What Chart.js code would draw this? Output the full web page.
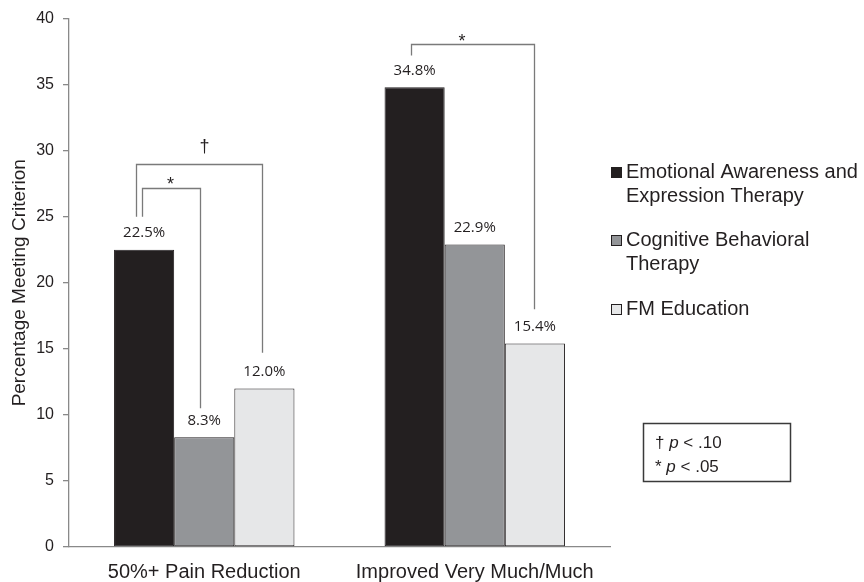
<!DOCTYPE html>
<html>
<head>
<meta charset="utf-8">
<script src="https://cdn.jsdelivr.net/npm/chart.js@4"></script>
<style>
  html, body { margin: 0; padding: 0; background: #fff; }
  #wrap { width: 864px; height: 582px; position: relative; }
</style>
</head>
<body>
<div id="wrap"><canvas id="chart"></canvas></div>
<script>
// chart data
const categories = ['50%+ Pain Reduction', 'Improved Very Much/Much'];
const seriesNames = [
    ['Emotional Awareness and', 'Expression Therapy'],
    ['Cognitive Behavioral', 'Therapy'],
    ['FM Education']
];
const eaetValues = [22.5, 34.8];
const cbtValues = [8.3, 22.9];
const educationValues = [12.0, 15.4];
const yMin = 0;
const yMax = 40;
const yStep = 5;

// significance brackets (values on the y scale)
const brackets = [
    { category: 0, from: 0, to: 2, top: 29.0, fromEnd: 25.0, toEnd: 14.7, mark: '\u2020' },
    { category: 0, from: 0, to: 1, top: 27.2, fromEnd: 25.0, toEnd: 10.5, mark: '*' },
    { category: 1, from: 0, to: 2, top: 38.1, fromEnd: 37.2, toEnd: 18.0, mark: '*' }
];
// pixel nudges: [left leg, right leg, mark x, mark baseline]
const bracketShift = [[-8, -2.5, 5, -13], [-2, -4, -1, 1], [-3.5, -1, -11, 2]];

const colors = ['#231f20', '#939598', '#e6e7e8'];
const textColor = '#231f20';
const axisColor = '#898989';

const datasets = [eaetValues, cbtValues, educationValues].map((values, i) => ({
    label: seriesNames[i].join(' '),
    data: values,
    backgroundColor: colors[i],
    borderColor: '#231f20',
    borderWidth: 1,
    borderSkipped: false,
    categoryPercentage: 0.667,
    barPercentage: 1.0
}));

/**
 * Value labels above each bar
 */
const valueLabels = {
    id: 'valueLabels',
    afterDatasetsDraw(chart) {
        const ctx = chart.ctx;
        ctx.save();
        ctx.font = '15px "Open Sans"';
        ctx.fillStyle = textColor;
        ctx.textAlign = 'center';
        ctx.textBaseline = 'middle';
        chart.data.datasets.forEach((ds, i) => {
            chart.getDatasetMeta(i).data.forEach((bar, j) => {
                ctx.fillText(ds.data[j].toFixed(1) + '%', bar.x, bar.y - 17);
            });
        });
        ctx.restore();
    }
};

/**
 * Significance brackets between bars
 */
const sigBrackets = {
    id: 'sigBrackets',
    afterDatasetsDraw(chart) {
        const ctx = chart.ctx;
        const y = chart.scales.y;
        ctx.save();
        ctx.strokeStyle = '#7a7a7a';
        ctx.lineWidth = 1.3;
        brackets.forEach((b, k) => {
            const s = bracketShift[k];
            const x1 = Math.round(chart.getDatasetMeta(b.from).data[b.category].x + s[0]) + 0.5;
            const x2 = Math.round(chart.getDatasetMeta(b.to).data[b.category].x + s[1]) + 0.5;
            const yt = Math.round(y.getPixelForValue(b.top)) + 0.5;
            ctx.beginPath();
            ctx.moveTo(x1, y.getPixelForValue(b.fromEnd));
            ctx.lineTo(x1, yt);
            ctx.lineTo(x2, yt);
            ctx.lineTo(x2, y.getPixelForValue(b.toEnd));
            ctx.stroke();

            ctx.fillStyle = textColor;
            ctx.textAlign = 'center';
            ctx.textBaseline = 'alphabetic';
            ctx.font = '18px "Liberation Sans"';
            ctx.fillText(b.mark, (x1 + x2) / 2 + s[2], yt + s[3]);
        });
        ctx.restore();
    }
};

/**
 * Legend on the right and p-value key box
 */
const sideLegend = {
    id: 'sideLegend',
    afterDraw(chart) {
        const ctx = chart.ctx;
        ctx.save();
        ctx.font = '20px "Liberation Sans"';
        ctx.textBaseline = 'middle';
        ctx.textAlign = 'left';
        const rows = [172, 240, 309];
        seriesNames.forEach((lines, i) => {
            ctx.fillStyle = colors[i];
            ctx.fillRect(611, rows[i] - 5, 11, 11);
            ctx.strokeStyle = '#231f20';
            ctx.lineWidth = 1;
            ctx.strokeRect(611.5, rows[i] - 4.5, 10, 10);
            ctx.fillStyle = textColor;
            lines.forEach((line, n) => {
                ctx.fillText(line, 626, rows[i] + n * 24);
            });
        });

        // p-value key
        ctx.strokeStyle = '#3a3a3a';
        ctx.lineWidth = 1.5;
        ctx.strokeRect(643.5, 423.5, 147, 58);
        const keys = [['\u2020', '.10', 443], ['*', '.05', 467]];
        keys.forEach(([sym, val, ky]) => {
            let x = 655;
            ctx.font = '17px "Liberation Sans"';
            ctx.fillText(sym, x, ky);
            x += ctx.measureText(sym + ' ').width;
            ctx.font = 'italic 17px "Liberation Sans"';
            ctx.fillText('p', x, ky);
            x += ctx.measureText('p').width;
            ctx.font = '17px "Liberation Sans"';
            ctx.fillText(' < ' + val, x, ky);
        });
        ctx.restore();
    }
};

new Chart(document.getElementById('chart'), {
    type: 'bar',
    data: { labels: categories, datasets: datasets },
    options: {
        responsive: true,
        maintainAspectRatio: false,
        animation: false,
        layout: { padding: { left: 0, top: 15, right: 254, bottom: 0 } },
        plugins: {
            legend: { display: false },
            tooltip: { enabled: false }
        },
        scales: {
            x: {
                grid: { display: false, drawTicks: false },
                border: { display: true, color: axisColor, width: 1.3 },
                ticks: {
                    color: textColor,
                    padding: 13,
                    font: { family: 'Liberation Sans', size: 20 }
                },
                afterFit: (scale) => { scale.height = 35; }
            },
            y: {
                min: yMin,
                max: yMax,
                grid: {
                    drawOnChartArea: false,
                    drawTicks: true,
                    tickLength: 6,
                    color: axisColor,
                    lineWidth: 1.3
                },
                border: { display: true, color: axisColor, width: 1.3 },
                ticks: {
                    stepSize: yStep,
                    color: textColor,
                    padding: 9,
                    font: { family: 'Liberation Sans', size: 16 }
                },
                title: {
                    display: true,
                    text: 'Percentage Meeting Criterion',
                    color: textColor,
                    padding: { top: 8, bottom: 0 },
                    font: { family: 'Liberation Sans', size: 19 }
                },
                afterFit: (scale) => { scale.width = 69; }
            }
        }
    },
    plugins: [valueLabels, sigBrackets, sideLegend]
});
</script>
</body>
</html>
